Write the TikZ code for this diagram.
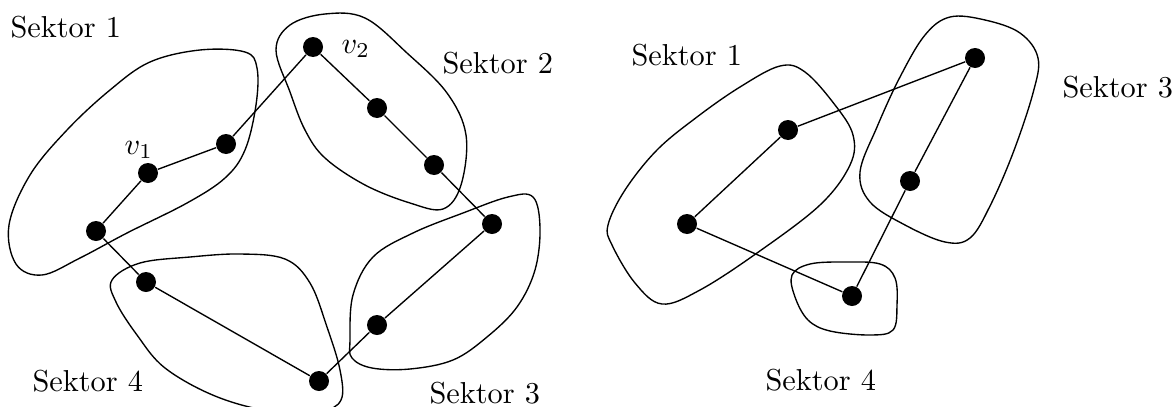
\documentclass[tikz,border=0pt]{standalone}
\begin{document}
\begin{tikzpicture}[x=0.33pt,y=-0.33pt,
  dot/.style={circle,fill=black,inner sep=0pt,minimum size=6.6pt},
  blob/.style={draw=black,line width=0.45pt},
  edge/.style={draw=black,line width=0.45pt},
  lab/.style={anchor=base west,inner sep=0pt,font=\fontsize{10}{12}\selectfont}]
\useasboundingbox (0,0) rectangle (1176,406);
% blobs left
\draw[blob] plot[smooth cycle,tension=0.6] coordinates{(9,225) (30,175) (67,130) (110,90) (150,62) (200,50) (245,52) (257,68) (256,105) (245,150) (225,178) (187,203) (127,233) (80,258) (42,275) (16,264)};
\draw[blob] plot[smooth cycle,tension=0.6] coordinates{(276,50) (290,25) (325,14) (365,18) (407,53) (447,93) (466,135) (461,185) (443,209) (410,203) (365,185) (325,158) (305,130) (290,92)};
\draw[blob] plot[smooth cycle,tension=0.6] coordinates{(112,280) (140,263) (190,257) (240,254) (285,259) (310,283) (327,327) (340,370) (341,400) (320,411) (270,411) (215,396) (165,368) (137,335) (116,302)};
\draw[blob] plot[smooth cycle,tension=0.6] coordinates{(350,340) (353,295) (373,257) (413,233) (463,213) (508,197) (533,197) (540,228) (535,270) (517,307) (487,337) (453,360) (410,369) (372,368) (352,358)};
% blobs right
\draw[blob] plot[smooth cycle,tension=0.6] coordinates{(608,225) (625,190) (657,150) (697,117) (740,87) (780,66) (805,72) (835,105) (853,135) (850,165) (820,205) (757,253) (700,290) (662,304) (635,283) (612,245)};
\draw[blob] plot[smooth cycle,tension=0.6] coordinates{(950,17) (925,35) (900,77) (877,127) (860,172) (870,202) (905,225) (945,242) (970,238) (990,206) (1013,153) (1033,93) (1038,58) (1020,33) (985,20)};
\draw[blob] plot[smooth cycle,tension=0.6] coordinates{(792,275) (810,264) (845,262) (880,264) (895,278) (897,305) (893,330) (870,335) (830,331) (808,320) (795,297)};
% nodes left
\node[dot] (a1) at (96,231) {};
\node[dot] (v1) at (148,173) {};
\node[dot] (a3) at (226,144) {};
\node[dot] (v2) at (313,47) {};
\node[dot] (b2) at (377,108) {};
\node[dot] (b3) at (434,165) {};
\node[dot] (c1) at (492,224) {};
\node[dot] (c2) at (377,325) {};
\node[dot] (d2) at (319,381) {};
\node[dot] (d1) at (146,282) {};
% nodes right
\node[dot] (r1) at (687,224) {};
\node[dot] (r2) at (788,130) {};
\node[dot] (r3) at (975,58) {};
\node[dot] (r4) at (910,181) {};
\node[dot] (r5) at (852,296) {};
% edges
\draw[edge] (a1)--(v1) (v1)--(a3) (a3)--(v2) (v2)--(b2) (b2)--(b3) (b3)--(c1) (c1)--(c2) (c2)--(d2) (d2)--(d1) (d1)--(a1);
\draw[edge] (r1)--(r2) (r2)--(r3) (r3)--(r4) (r4)--(r5) (r5)--(r1);
% labels
\node[lab] (s1) at (10,37) {Sektor 1};
\node[lab] (s2) at (442,73) {Sektor 2};
\node[lab] (s4) at (32,391) {Sektor 4};
\node[lab] (s3) at (429,403) {Sektor 3};
\node[lab] (lv1) at (124,154) {$v_1$};
\node[lab] (lv2) at (341,53) {$v_2$};
\node[lab] (t1) at (631,65) {Sektor 1};
\node[lab] (t3) at (1062,97) {Sektor 3};
\node[lab] (t4) at (765,390) {Sektor 4};
\end{tikzpicture}
\end{document}
